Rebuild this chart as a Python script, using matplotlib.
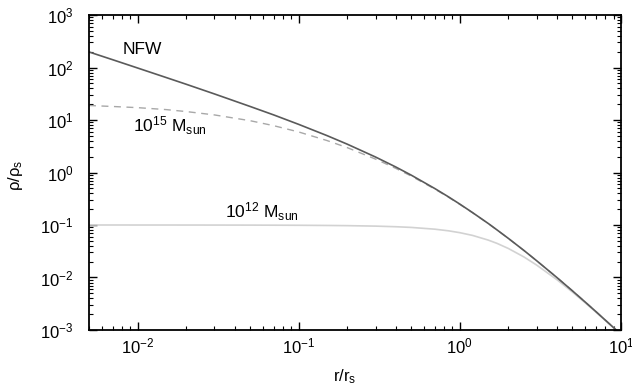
import matplotlib
matplotlib.use('Agg')
import matplotlib.pyplot as plt

plt.rcParams['font.family'] = ['Liberation Sans', 'DejaVu Sans']
plt.rcParams['mathtext.fontset'] = 'custom'
plt.rcParams['mathtext.rm'] = 'Liberation Sans'
plt.rcParams['mathtext.it'] = 'Liberation Sans'

# radius in units of r_s
r = [0.005, 0.007, 0.01, 0.015, 0.02, 0.03, 0.05, 0.07, 0.1, 0.15, 0.2,
     0.3, 0.4, 0.5, 0.7, 0.85, 1.0, 1.2, 1.5, 1.7, 2.0, 2.5, 3.0, 4.0,
     5.0, 6.0, 7.0, 10.0]

# density rho/rho_s for each profile
rho_nfw = [198, 141, 98.0, 64.7, 48.1, 31.4, 18.1, 12.5, 8.26, 5.04, 3.47,
           1.97, 1.276, 0.889, 0.494, 0.344, 0.25, 0.172, 0.107, 0.0807,
           0.0556, 0.0327, 0.0208, 0.0100, 0.00556, 0.0034, 0.00223, 0.000826]
rho_15 = [18.9, 18.1, 17.2, 15.8, 14.5, 12.5, 9.7, 7.8, 5.92, 4.06, 2.98,
          1.80, 1.20, 0.853, 0.483, 0.338, 0.247, 0.171, 0.107, 0.0804,
          0.0556, 0.0326, 0.0208, 0.0100, 0.00556, 0.0034, 0.00223, 0.000826]
rho_12 = [0.1, 0.1, 0.0999, 0.0999, 0.0998, 0.0997, 0.0995, 0.0992, 0.0988,
          0.098, 0.0972, 0.0952, 0.0927, 0.0899, 0.0832, 0.0775, 0.0714,
          0.0633, 0.0516, 0.0447, 0.0357, 0.0246, 0.0172, 0.0091, 0.00526,
          0.00329, 0.00218, 0.00082]

fig = plt.figure(figsize=(6.32, 3.89), dpi=100)
ax = fig.add_axes([0.1408, 0.1517, 0.8418, 0.8097])

ax.plot(r, rho_12, color='#d2d2d2', lw=1.2)
ax.plot(r, rho_15, color='#a8a8a8', lw=1.0, dashes=(5, 4))
ax.plot(r, rho_nfw, color='#5a5a5a', lw=1.2)

ax.set_xscale('log')
ax.set_yscale('log')
ax.set_xlim(0.005, 10)
ax.set_ylim(1e-3, 1e3)

ax.tick_params(which='both', direction='in', top=True, right=True, labelsize=12)
ax.tick_params(which='major', length=6, width=1)
ax.tick_params(which='minor', length=3, width=0.8)
ax.tick_params(axis='y', pad=11)
ax.tick_params(axis='x', pad=5)
for s in ax.spines.values():
    s.set_linewidth(1.3)

ax.text(0.0996, 0.889, 'NFW', transform=ax.transAxes, ha='center', va='center', fontsize=12.5)
ax.text(0.152, 0.648, r'10$^{15}$ M$_{\rm sun}$', transform=ax.transAxes,
        ha='center', va='center', fontsize=12.5)
ax.text(0.325, 0.375, r'10$^{12}$ M$_{\rm sun}$', transform=ax.transAxes,
        ha='center', va='center', fontsize=12.5)

ax.set_xlabel(r'r/r$_{\rm s}$', fontsize=12)
ax.set_ylabel(r'$\rho/\rho_{\rm s}$', fontsize=12)
ax.xaxis.set_label_coords(0.481, -0.118)
ax.yaxis.set_label_coords(-0.12, 0.49)

fig.savefig('out.png', dpi=100)
